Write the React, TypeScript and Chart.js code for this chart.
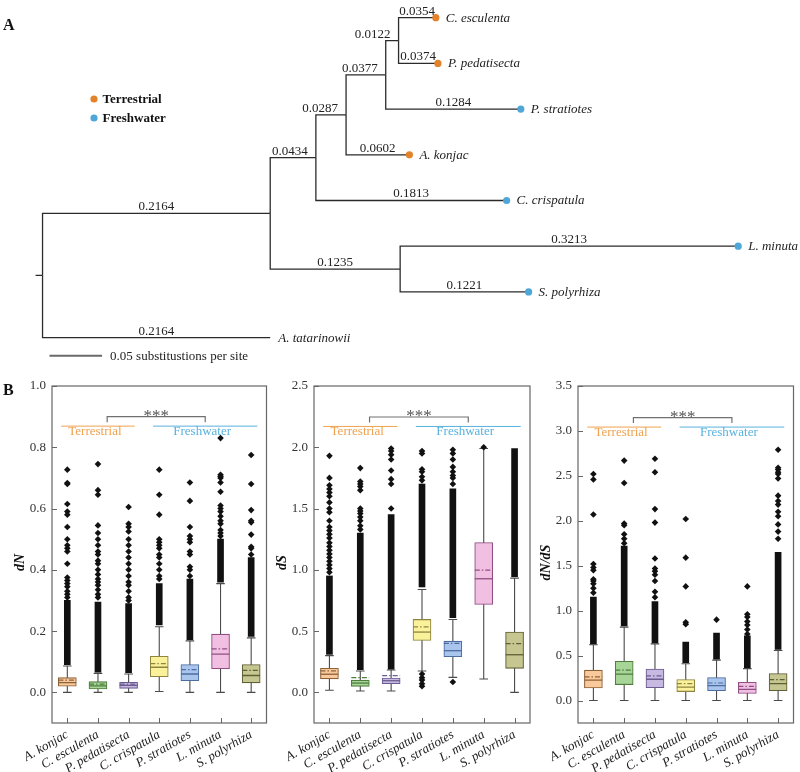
import React, { useEffect, useRef } from 'react';
import { Chart, registerables } from 'chart.js';

Chart.register(...registerables);

const SERIF = '"Liberation Serif", "Times New Roman", Times, serif';
Chart.defaults.font.family = SERIF;

// ---------------- Panel A: tree ----------------
const treeNodes = ['root', 'n1', 'A. tatarinowii', 'n2', 'n6', 'n3', 'C. crispatula', 'n4', 'A. konjac', 'n5', 'P. stratiotes', 'C. esculenta', 'P. pedatisecta', 'L. minuta', 'S. polyrhiza'];
const treeParents = [-1, 0, 0, 1, 1, 3, 3, 5, 5, 7, 7, 9, 9, 4, 4];
const branchLengths = [0, 0.2164, 0.2164, 0.0434, 0.1235, 0.0287, 0.1813, 0.0377, 0.0602, 0.0122, 0.1284, 0.0354, 0.0374, 0.3213, 0.1221];
const leafOrder = ['C. esculenta', 'P. pedatisecta', 'P. stratiotes', 'A. konjac', 'C. crispatula', 'L. minuta', 'S. polyrhiza', 'A. tatarinowii'];
const leafHabitat = ['Terrestrial', 'Terrestrial', 'Freshwater', 'Terrestrial', 'Freshwater', 'Freshwater', 'Freshwater', ''];
const habitatNames = ['Terrestrial', 'Freshwater'];
const habitatColors = ['#e2832c', '#4fa7d9'];
const scaleBarLength = 0.05;
const scaleBarLabel = '0.05 substitustions per site';

// ---------------- Panel B: box plots ----------------
const species = ['A. konjac', 'C. esculenta', 'P. pedatisecta', 'C. crispatula', 'P. stratiotes', 'L. minuta', 'S. polyrhiza'];
const boxFill = ['#f9c89b', '#a6d597', '#c7b9e2', '#fbf19b', '#a9c5ee', '#f1bfe2', '#c6c690'];
const boxEdge = ['#8c6239', '#4e7d3e', '#6b5c8f', '#8d8540', '#4d6d9e', '#8f4f82', '#5f5f37'];

const groupNames = ['Terrestrial', 'Freshwater'];
const groupColors = ['#efa24f', '#58b2de'];
const groupSpans = [[-0.2, 2.2], [2.8, 6.2]];
const groupLabelX = [0.9, 4.4];
const bracketSpan = [1.3, 4.5];
const sigLabel = '***';

// dN
const dnTicks = [0, 0.2, 0.4, 0.6, 0.8, 1.0];
const dnRange = [-0.1, 1.0];
const dnMin = [0, 0, 0, 0.003, 0, 0, 0];
const dnQ1 = [0.020, 0.011, 0.013, 0.051, 0.038, 0.077, 0.031];
const dnMedian = [0.032, 0.021, 0.023, 0.082, 0.060, 0.125, 0.055];
const dnMean = [0.040, 0.027, 0.027, 0.094, 0.074, 0.142, 0.072];
const dnQ3 = [0.048, 0.035, 0.033, 0.118, 0.091, 0.190, 0.091];
const dnMax = [0.086, 0.062, 0.060, 0.214, 0.168, 0.355, 0.178];
const dnBandLow = [0.09, 0.066, 0.064, 0.22, 0.172, 0.36, 0.183];
const dnBandHigh = [0.30, 0.295, 0.29, 0.355, 0.37, 0.50, 0.44];
const dnOutliers = [
  [0.31, 0.32, 0.33, 0.345, 0.355, 0.365, 0.375, 0.42, 0.46, 0.47, 0.48, 0.50, 0.54, 0.58, 0.59, 0.615, 0.68, 0.683, 0.727],
  [0.31, 0.32, 0.335, 0.35, 0.36, 0.37, 0.385, 0.40, 0.42, 0.43, 0.45, 0.46, 0.48, 0.50, 0.52, 0.545, 0.645, 0.66, 0.745],
  [0.30, 0.31, 0.33, 0.35, 0.36, 0.38, 0.40, 0.42, 0.44, 0.46, 0.48, 0.50, 0.525, 0.54, 0.55, 0.605],
  [0.37, 0.38, 0.40, 0.42, 0.44, 0.45, 0.47, 0.48, 0.49, 0.50, 0.58, 0.645, 0.727],
  [0.38, 0.40, 0.41, 0.45, 0.46, 0.49, 0.50, 0.51, 0.54, 0.625, 0.685],
  [0.51, 0.52, 0.53, 0.55, 0.56, 0.575, 0.59, 0.60, 0.61, 0.655, 0.685, 0.70, 0.705, 0.71, 0.83],
  [0.45, 0.47, 0.475, 0.515, 0.555, 0.56, 0.595, 0.68, 0.775],
];
const dnAnnot = [0.869, 0.900, 0.882]; // group line, bracket top, bracket foot

// dS
const dsTicks = [0, 0.5, 1.0, 1.5, 2.0, 2.5];
const dsRange = [-0.25, 2.5];
const dsMin = [0.017, 0.011, 0.011, 0.174, 0.122, 0.109, 0.0];
const dsQ1 = [0.110, 0.049, 0.071, 0.424, 0.291, 0.717, 0.196];
const dsMedian = [0.148, 0.076, 0.095, 0.492, 0.340, 0.927, 0.307];
const dsMean = [0.175, 0.120, 0.136, 0.535, 0.400, 0.997, 0.397];
const dsQ3 = [0.196, 0.100, 0.117, 0.595, 0.418, 1.223, 0.492];
const dsMax = [0.300, 0.174, 0.182, 0.840, 0.595, 1.990, 0.932];
const dsBandLow = [0.31, 0.185, 0.19, 0.86, 0.61, null, 0.945];
const dsBandHigh = [0.95, 1.30, 1.45, 1.70, 1.66, null, 1.99];
const dsOutliers = [
  [0.98, 1.01, 1.04, 1.07, 1.10, 1.13, 1.16, 1.19, 1.22, 1.26, 1.29, 1.32, 1.35, 1.40, 1.47, 1.50, 1.55, 1.60, 1.63, 1.66, 1.69, 1.75, 1.93],
  [1.33, 1.36, 1.40, 1.43, 1.46, 1.48, 1.50, 1.65, 1.68, 1.70, 1.72, 1.83],
  [1.50, 1.70, 1.74, 1.81, 1.90, 1.94, 1.97, 1.99],
  [0.05, 0.07, 0.10, 0.12, 0.15, 1.73, 1.76, 1.80, 1.82, 1.95, 1.97],
  [0.085, 1.70, 1.75, 1.77, 1.80, 1.84, 1.90, 1.95, 1.98],
  [2.0],
  [],
];
const dsAnnot = [2.17, 2.247, 2.203];

// dN/dS
const dndsTicks = [0, 0.5, 1.0, 1.5, 2.0, 2.5, 3.0, 3.5];
const dndsRange = [-0.25, 3.5];
const dndsMin = [0, 0, 0, 0, 0, 0, 0];
const dndsQ1 = [0.139, 0.177, 0.143, 0.100, 0.109, 0.079, 0.109];
const dndsMedian = [0.226, 0.293, 0.237, 0.150, 0.165, 0.124, 0.188];
const dndsMean = [0.263, 0.338, 0.274, 0.188, 0.195, 0.158, 0.233];
const dndsQ3 = [0.338, 0.436, 0.350, 0.233, 0.256, 0.203, 0.300];
const dndsMax = [0.620, 0.817, 0.630, 0.410, 0.450, 0.355, 0.556];
const dndsBandLow = [0.63, 0.83, 0.64, 0.42, 0.46, 0.365, 0.57];
const dndsBandHigh = [1.15, 1.72, 1.10, 0.65, 0.75, 0.72, 1.65];
const dndsOutliers = [
  [1.20, 1.25, 1.30, 1.33, 1.35, 1.45, 1.48, 1.52, 2.07, 2.46, 2.52],
  [1.75, 1.80, 1.85, 1.95, 1.97, 2.42, 2.67],
  [1.15, 1.21, 1.33, 1.40, 1.44, 1.47, 1.58, 1.98, 2.13, 2.54, 2.69],
  [0.85, 0.87, 1.27, 1.59, 2.02],
  [0.90],
  [0.74, 0.79, 0.84, 0.88, 0.93, 0.96, 1.27],
  [1.80, 1.88, 1.96, 2.05, 2.10, 2.18, 2.22, 2.28, 2.47, 2.52, 2.54, 2.57, 2.59, 2.79],
];
const dndsAnnot = [3.043, 3.148, 3.088];

const panels = [
  { key: 'dn', title: 'dN', ticks: dnTicks, range: dnRange, min: dnMin, q1: dnQ1, med: dnMedian, mean: dnMean, q3: dnQ3, max: dnMax, bandLow: dnBandLow, bandHigh: dnBandHigh, outliers: dnOutliers, annot: dnAnnot, left: 0, width: 280, yW: 52, padR: 13.5, letter: 'B' },
  { key: 'ds', title: 'dS', ticks: dsTicks, range: dsRange, min: dsMin, q1: dsQ1, med: dsMedian, mean: dsMean, q3: dsQ3, max: dsMax, bandLow: dsBandLow, bandHigh: dsBandHigh, outliers: dsOutliers, annot: dsAnnot, left: 270, width: 270, yW: 44, padR: 10, letter: '' },
  { key: 'dnds', title: 'dN/dS', ticks: dndsTicks, range: dndsRange, min: dndsMin, q1: dndsQ1, med: dndsMedian, mean: dndsMean, q3: dndsQ3, max: dndsMax, bandLow: dndsBandLow, bandHigh: dndsBandHigh, outliers: dndsOutliers, annot: dndsAnnot, left: 530, width: 270, yW: 48, padR: 6.5, letter: '' },
];

// ---------------- Tree ----------------
function layoutTree() {
  const n = treeNodes.length;
  const depth = new Array(n).fill(0);
  for (let i = 1; i < n; i++) depth[i] = depth[treeParents[i]] + branchLengths[i];
  const isLeaf = treeNodes.map((_, i) => !treeParents.includes(i));
  const ys = new Array(n).fill(0);
  for (let i = n - 1; i >= 0; i--) {
    if (isLeaf[i]) ys[i] = leafOrder.indexOf(treeNodes[i]);
    else {
      const kids = treeParents.map((p, j) => (p === i ? ys[j] : null)).filter((v) => v !== null) as number[];
      ys[i] = (Math.min(...kids) + Math.max(...kids)) / 2;
    }
  }
  return { depth, ys, isLeaf };
}

function TreeChart() {
  const ref = useRef<HTMLCanvasElement>(null);
  useEffect(() => {
    const { depth, ys, isLeaf } = layoutTree();
    const n = treeNodes.length;
    const datasets: any[] = [];
    for (let i = 1; i < n; i++) {
      const p = treeParents[i];
      datasets.push({
        type: 'scatter', showLine: true,
        data: [{ x: depth[p], y: ys[p] }, { x: depth[p], y: ys[i] }, { x: depth[i], y: ys[i] }],
        borderColor: '#2b2b2b', borderWidth: 1.3, pointRadius: 0, order: 2,
      });
    }
    const rootStub = 0.0066;
    datasets.push({
      type: 'scatter', showLine: true,
      data: [{ x: -rootStub, y: ys[0] }, { x: 0, y: ys[0] }],
      borderColor: '#2b2b2b', borderWidth: 1.3, pointRadius: 0, order: 2,
    });
    const dotIdx = treeNodes.map((_, i) => i).filter((i) => isLeaf[i] && leafHabitat[leafOrder.indexOf(treeNodes[i])]);
    datasets.push({
      type: 'scatter',
      data: dotIdx.map((i) => ({ x: depth[i], y: ys[i] })),
      pointBackgroundColor: dotIdx.map((i) => habitatColors[habitatNames.indexOf(leafHabitat[leafOrder.indexOf(treeNodes[i])])]),
      pointBorderWidth: 0, pointRadius: 3.6, order: 0,
    });
    const sbStart = 0.0066, sbY = 7.4;
    datasets.push({
      type: 'scatter', showLine: true,
      data: [{ x: sbStart, y: sbY }, { x: sbStart + scaleBarLength, y: sbY }],
      borderColor: '#6a6a6a', borderWidth: 2, pointRadius: 0, order: 1,
    });

    const treeText = {
      id: 'treeText',
      afterDatasetsDraw(chart: any) {
        const { ctx } = chart;
        const xs = chart.scales.x, yS = chart.scales.y;
        ctx.save();
        ctx.fillStyle = '#222';
        ctx.font = `13px ${SERIF}`;
        ctx.textAlign = 'center';
        ctx.textBaseline = 'alphabetic';
        for (let i = 1; i < n; i++) {
          const p = treeParents[i];
          const x1 = xs.getPixelForValue(depth[p]);
          const x2 = xs.getPixelForValue(depth[i]);
          const py = yS.getPixelForValue(ys[i]);
          const label = branchLengths[i].toFixed(4);
          const w = ctx.measureText(label).width;
          let cx = (x1 + x2) / 2;
          if (!isLeaf[i]) cx = Math.min(cx, x2 - 8 - w / 2);
          ctx.fillText(label, cx, py - 3);
        }
        ctx.font = `italic 13px ${SERIF}`;
        ctx.textAlign = 'left';
        ctx.textBaseline = 'middle';
        for (let i = 0; i < n; i++) {
          if (!isLeaf[i]) continue;
          const hasDot = !!leafHabitat[leafOrder.indexOf(treeNodes[i])];
          ctx.fillText(treeNodes[i], xs.getPixelForValue(depth[i]) + (hasDot ? 10 : 8), yS.getPixelForValue(ys[i]) + 0.5);
        }
        ctx.font = `13px ${SERIF}`;
        ctx.fillText(scaleBarLabel, xs.getPixelForValue(sbStart + scaleBarLength) + 8, yS.getPixelForValue(sbY) + 1);
        ctx.font = `bold 13px ${SERIF}`;
        habitatNames.forEach((name, k) => {
          const ly = 99 + k * 19;
          ctx.fillStyle = habitatColors[k];
          ctx.beginPath();
          ctx.arc(94, ly, 3.6, 0, Math.PI * 2);
          ctx.fill();
          ctx.fillStyle = '#111';
          ctx.fillText(name, 102.5, ly + 0.5);
        });
        ctx.font = `bold 16px ${SERIF}`;
        ctx.textBaseline = 'alphabetic';
        ctx.fillText('A', 3, 30);
        ctx.restore();
      },
    };

    const chart = new Chart(ref.current as HTMLCanvasElement, {
      type: 'scatter',
      data: { datasets },
      options: {
        animation: false,
        responsive: false,
        events: [],
        layout: { padding: { left: 21.5, right: 21, top: 0.4, bottom: 7 } },
        scales: {
          x: { type: 'linear', display: false, min: -0.02, max: 0.70 },
          y: { type: 'linear', display: false, reverse: true, min: -0.3, max: 7.6 },
        },
        plugins: { legend: { display: false }, tooltip: { enabled: false } },
      } as any,
      plugins: [treeText],
    });
    return () => chart.destroy();
  }, []);
  return (
    <canvas ref={ref} width={800} height={372}
      style={{ position: 'absolute', left: 0, top: 0, width: 800, height: 372 }} />
  );
}

// ---------------- Box plots ----------------
function buildBoxDatasets(p: any) {
  const ds: any[] = [];
  const cap = 0.14, half = 0.29;
  species.forEach((_, i) => {
    ds.push({
      type: 'line', xAxisID: 'xl',
      data: [
        { x: i - cap, y: p.max[i] }, { x: i + cap, y: p.max[i] }, { x: i, y: p.max[i] },
        { x: i, y: p.min[i] }, { x: i - cap, y: p.min[i] }, { x: i + cap, y: p.min[i] },
      ],
      borderColor: '#4a4a4a', borderWidth: 1.1, pointRadius: 0, fill: false, order: 6,
    });
    ds.push({
      type: 'line', xAxisID: 'xl',
      data: [{ x: i - half, y: p.med[i] }, { x: i + half, y: p.med[i] }],
      borderColor: boxEdge[i], borderWidth: 1.3, pointRadius: 0, order: 1,
    });
    ds.push({
      type: 'line', xAxisID: 'xl',
      data: [{ x: i - half, y: p.mean[i] }, { x: i + half, y: p.mean[i] }],
      borderColor: boxEdge[i], borderWidth: 1.2, borderDash: [5, 2, 1.5, 2], pointRadius: 0, order: 1,
    });
  });
  ds.push({
    type: 'bar', xAxisID: 'x',
    data: species.map((_, i) => (p.bandLow[i] == null ? null : [p.bandLow[i], p.bandHigh[i]])),
    backgroundColor: '#111', barThickness: 6, grouped: false, order: 5,
  });
  ds.push({
    type: 'scatter', xAxisID: 'xl',
    data: p.outliers.flatMap((vals: number[], i: number) => vals.map((v) => ({ x: i, y: v }))),
    pointStyle: 'rectRot', pointRadius: 3.3, pointBackgroundColor: '#111', pointBorderWidth: 0, order: 5,
  });
  ds.push({
    type: 'bar', xAxisID: 'x',
    data: species.map((_, i) => [p.q1[i], p.q3[i]]),
    backgroundColor: boxFill, borderColor: boxEdge, borderWidth: 1.1, borderSkipped: false,
    barThickness: 18, grouped: false, order: 3,
  });
  groupSpans.forEach((span, g) => {
    ds.push({
      type: 'line', xAxisID: 'xl',
      data: [{ x: span[0], y: p.annot[0] }, { x: span[1], y: p.annot[0] }],
      borderColor: groupColors[g], borderWidth: 1, pointRadius: 0, order: 0,
    });
  });
  ds.push({
    type: 'line', xAxisID: 'xl',
    data: [
      { x: bracketSpan[0], y: p.annot[2] }, { x: bracketSpan[0], y: p.annot[1] },
      { x: bracketSpan[1], y: p.annot[1] }, { x: bracketSpan[1], y: p.annot[2] },
    ],
    borderColor: '#707070', borderWidth: 1.2, pointRadius: 0, order: 0,
  });
  return ds;
}

function makeDecor(p: any) {
  return {
    id: 'decor_' + p.key,
    afterDatasetsDraw(chart: any) {
      const { ctx, chartArea: a } = chart;
      const yS = chart.scales.y, xl = chart.scales.xl;
      ctx.save();
      ctx.strokeStyle = '#666';
      ctx.lineWidth = 1.2;
      ctx.strokeRect(a.left, a.top, a.right - a.left, a.bottom - a.top);
      ctx.beginPath();
      p.ticks.forEach((v: number) => {
        const py = Math.round(yS.getPixelForValue(v)) + 0.5;
        ctx.moveTo(a.left, py); ctx.lineTo(a.left + 5, py);
      });
      species.forEach((_, i) => {
        const px = Math.round(xl.getPixelForValue(i)) + 0.5;
        ctx.moveTo(px, a.bottom); ctx.lineTo(px, a.bottom - 5);
      });
      ctx.lineWidth = 1;
      ctx.stroke();

      ctx.save();
      ctx.translate(a.left - 32, (a.top + a.bottom) / 2 + 8);
      ctx.rotate(-Math.PI / 2);
      ctx.font = `bold italic 14px ${SERIF}`;
      ctx.fillStyle = '#111';
      ctx.textAlign = 'center';
      ctx.textBaseline = 'middle';
      ctx.fillText(p.title, 0, 0);
      ctx.restore();

      ctx.font = `13px ${SERIF}`;
      ctx.textAlign = 'center';
      ctx.textBaseline = 'top';
      groupNames.forEach((name, g) => {
        ctx.fillStyle = groupColors[g];
        ctx.fillText(name, xl.getPixelForValue(groupLabelX[g]), yS.getPixelForValue(p.annot[0]) - 1);
      });
      ctx.font = `17px ${SERIF}`;
      ctx.fillStyle = '#555';
      ctx.textBaseline = 'alphabetic';
      ctx.fillText(sigLabel, xl.getPixelForValue((bracketSpan[0] + bracketSpan[1]) / 2), yS.getPixelForValue(p.annot[1]) + 4);

      if (p.letter) {
        ctx.font = `bold 16px ${SERIF}`;
        ctx.fillStyle = '#111';
        ctx.textAlign = 'left';
        ctx.fillText(p.letter, 3, 25);
      }
      ctx.restore();
    },
  };
}

function BoxPanel({ p }: { p: any }) {
  const ref = useRef<HTMLCanvasElement>(null);
  useEffect(() => {
    const chart = new Chart(ref.current as HTMLCanvasElement, {
      type: 'bar',
      data: { labels: species, datasets: buildBoxDatasets(p) },
      options: {
        animation: false,
        responsive: false,
        events: [],
        layout: { padding: { left: 0, right: p.padR, top: 16, bottom: 0 } },
        scales: {
          x: {
            type: 'category',
            grid: { display: false, drawTicks: false },
            border: { display: false },
            ticks: {
              autoSkip: false, minRotation: 30, maxRotation: 30, padding: 4,
              color: '#222', font: { family: SERIF, size: 13, style: 'italic' },
            },
            afterFit: (s: any) => { s.height = 49; },
          },
          xl: { type: 'linear', display: false, offset: false, grid: { offset: false }, min: -0.5, max: 6.5 },
          y: {
            type: 'linear', min: p.range[0], max: p.range[1],
            grid: { display: false, drawTicks: false },
            border: { display: false },
            afterBuildTicks: (s: any) => { s.ticks = p.ticks.map((v: number) => ({ value: v })); },
            ticks: {
              padding: 6, color: '#333', font: { family: SERIF, size: 13 },
              callback: (v: any) => Number(v).toFixed(1),
            },
            afterFit: (s: any) => { s.width = p.yW; },
          },
        },
        plugins: { legend: { display: false }, tooltip: { enabled: false } },
      } as any,
      plugins: [makeDecor(p)],
    });
    return () => chart.destroy();
  }, [p]);
  return (
    <canvas ref={ref} width={p.width} height={402}
      style={{ position: 'absolute', left: p.left, top: 370, width: p.width, height: 402 }} />
  );
}

export default function App() {
  return (
    <div style={{ position: 'absolute', left: 0, top: 0, width: 800, height: 772, background: '#fff', overflow: 'hidden' }}>
      <TreeChart />
      {panels.map((p) => <BoxPanel key={p.key} p={p} />)}
    </div>
  );
}
